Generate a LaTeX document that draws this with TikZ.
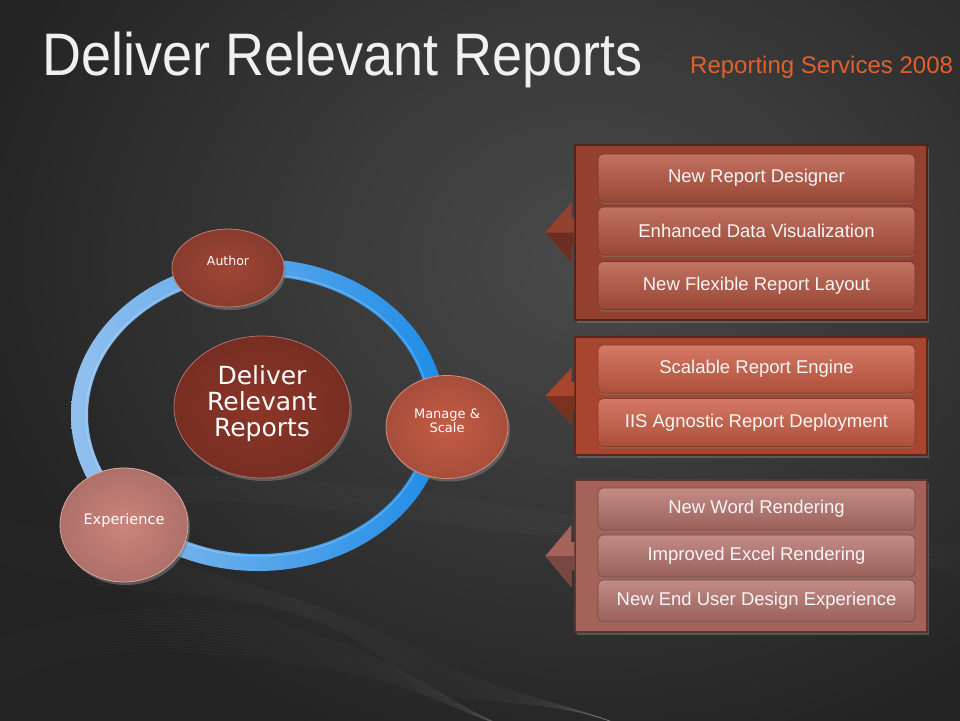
\documentclass[tikz,border=0pt]{standalone}
\usepackage{fontspec}
\setmainfont{Liberation Sans}
\newfontfamily\circfont{DejaVu Sans}
\usetikzlibrary{shapes.geometric,shadows,calc}
\definecolor{bgdark}{HTML}{232323}
\definecolor{bglight}{HTML}{4A4A4A}
\definecolor{subtitle}{HTML}{E0602E}
\definecolor{ringL}{HTML}{92C0EE}
\definecolor{ringR}{HTML}{1E8CE6}
\definecolor{authorc}{HTML}{A04636}
\definecolor{centerc}{HTML}{8C3628}
\definecolor{managec}{HTML}{C45C45}
\definecolor{expc}{HTML}{CC847C}
\definecolor{frameone}{HTML}{94412F}
\definecolor{boxone}{HTML}{B4533E}
\definecolor{frametwo}{HTML}{A8452F}
\definecolor{boxtwo}{HTML}{CB5C44}
\definecolor{framethree}{HTML}{A5625A}
\definecolor{boxthree}{HTML}{B5726B}
\begin{document}
\begin{tikzpicture}[x=1pt,y=-1pt,
  bubble/.style={ellipse, inner sep=0pt, inner color=#1, outer color=#1!85!black,
    draw=#1!70!white, line width=0.8pt,
    drop shadow={shadow xshift=2pt, shadow yshift=-3pt, opacity=0.55}},
  bubtext/.style={text=white, align=center, inner sep=0pt, font=\circfont},
  framebox/.style={rectangle, inner sep=0pt, fill=#1, draw=#1!55!black, line width=1.2pt,
    drop shadow={shadow xshift=2pt, shadow yshift=-3pt, opacity=0.5}},
  itembox/.style={rectangle, rounded corners=5pt, inner sep=0pt,
    top color=#1!82!white, middle color=#1, bottom color=#1!85!black,
    draw=#1!65!black, line width=0.7pt, text=white!96!black,
    minimum width=317pt, font=\fontsize{18.5}{20}\selectfont,
    drop shadow={shadow xshift=0pt, shadow yshift=-2pt, opacity=0.45}},
  titletext/.style={inner sep=0pt, anchor=base west},
  wisp/.style={white, opacity=0.035, line width=0.8pt}
]
\useasboundingbox (0,0) rectangle (960,720);
% background
\fill[bgdark] (-10,-10) rectangle (970,730);
\shade[inner color=bglight, outer color=bgdark] (590,260) ellipse [x radius=640, y radius=520];
% faint wisps
\foreach \k in {0,...,14} {
  \draw[wisp] (0,{520+3*\k}) .. controls (160,{560+4*\k}) and (300,{590-2*\k}) .. (420,{650+3*\k}) .. controls (480,{690+\k}) and (560,{700}) .. (620,725);
  \draw[wisp] (140,{478+2*\k}) .. controls (300,{470+\k}) and (460,{500+3*\k}) .. (600,{520+\k}) .. controls (760,{540+2*\k}) and (880,{560-2*\k}) .. (970,{540+3*\k});
  \draw[wisp] (0,{640+3*\k}) .. controls (120,{600+2*\k}) and (220,{600+4*\k}) .. (330,{640+2*\k}) .. controls (420,{670+\k}) and (470,{720}) .. (520,730);
}
% title
\node[titletext, text=white!88!gray, font=\fontsize{60}{62}\selectfont] (title) at (42,75) {\scalebox{0.9}[1]{Deliver Relevant Reports}};
\node[titletext, text=subtitle, font=\fontsize{24}{26}\selectfont] (sub) at (690,73) {Reporting Services 2008};
% ring
\shade[even odd rule, left color=ringL, right color=ringR]
  (258,415) ellipse [x radius=187, y radius=156]
  (258,415) ellipse [x radius=170, y radius=139];
\draw[white, opacity=0.25, line width=1pt] (258,415) ellipse [x radius=172, y radius=141];
% bubbles
\node[bubble=authorc, minimum width=112pt, minimum height=78pt] (author) at (228,268) {};
\node[bubtext, font=\circfont\fontsize{12.5}{14}\selectfont] (authort) at (228,261) {Author};
\node[bubble=centerc, minimum width=176pt, minimum height=142pt] (center) at (262,407) {};
\node[bubtext, font=\circfont\fontsize{25}{26}\selectfont] (centert) at (262,404) {Deliver\\Relevant\\Reports};
\node[bubble=managec, minimum width=122pt, minimum height=103pt] (manage) at (447,427) {};
\node[bubtext, font=\circfont\fontsize{13}{14}\selectfont] (managet) at (447,421) {Manage \&\\Scale};
\node[bubble=expc, minimum width=128pt, minimum height=114pt] (exp) at (124,525) {};
\node[bubtext, font=\circfont\fontsize{14.5}{16}\selectfont] (expt) at (124,520) {Experience};
% panel 1
\node[framebox=frameone, minimum width=352pt, minimum height=175pt] (f1) at (751,232.5) {};
\coordinate (a1) at (f1.west);
\fill[frameone] (a1) ++(0,-14) -- ++(-3,0) -- ++(0,-16) -- ++(-26,30) -- ++(26,30) -- ++(0,-16) -- ++(3,0) -- cycle;
\fill[frameone!72!black] (a1) ++(-29,0) -- ++(26,30) -- ++(0,-16) -- ++(3,0) -- ++(0,-14) -- cycle;
\node[itembox=boxone, minimum height=48pt] (b11) at (756.5,178) {New Report Designer};
\node[itembox=boxone, minimum height=48pt] (b12) at (756.5,231) {Enhanced Data Visualization};
\node[itembox=boxone, minimum height=48pt] (b13) at (756.5,285.5) {New Flexible Report Layout};
% panel 2
\node[framebox=frametwo, minimum width=352pt, minimum height=118pt] (f2) at (751,396) {};
\coordinate (a2) at (f2.west);
\fill[frametwo] (a2) ++(0,-14) -- ++(-3,0) -- ++(0,-14) -- ++(-26,28) -- ++(26,28) -- ++(0,-14) -- ++(3,0) -- cycle;
\fill[frametwo!72!black] (a2) ++(-29,0) -- ++(26,28) -- ++(0,-14) -- ++(3,0) -- ++(0,-14) -- cycle;
\node[itembox=boxtwo, minimum height=48pt] (b21) at (756.5,369) {Scalable Report Engine};
\node[itembox=boxtwo, minimum height=48pt] (b22) at (756.5,422.5) {IIS Agnostic Report Deployment};
% panel 3
\node[framebox=framethree, minimum width=352pt, minimum height=152pt] (f3) at (751,556) {};
\coordinate (a3) at (f3.west);
\fill[framethree] (a3) ++(0,-14) -- ++(-3,0) -- ++(0,-17) -- ++(-26,31) -- ++(26,31) -- ++(0,-17) -- ++(3,0) -- cycle;
\fill[framethree!72!black] (a3) ++(-29,0) -- ++(26,31) -- ++(0,-17) -- ++(3,0) -- ++(0,-14) -- cycle;
\node[itembox=boxthree, minimum height=42pt] (b31) at (756.5,509) {New Word Rendering};
\node[itembox=boxthree, minimum height=42pt] (b32) at (756.5,556) {Improved Excel Rendering};
\node[itembox=boxthree, minimum height=42pt] (b33) at (756.5,601) {New End User Design Experience};
\end{tikzpicture}
\end{document}
